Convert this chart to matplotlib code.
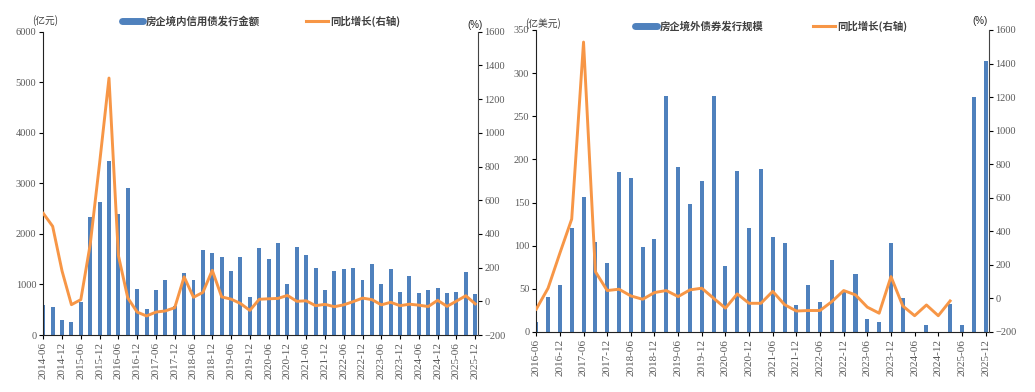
import matplotlib
matplotlib.use('Agg')
import matplotlib.pyplot as plt
import numpy as np
from matplotlib.lines import Line2D

plt.rcParams['font.family'] = ['Liberation Serif', 'Noto Sans CJK SC']

# ---------------- data ----------------
dom_quarters = ['2014-06', '2014-09', '2014-12', '2015-03', '2015-06', '2015-09', '2015-12',
                '2016-03', '2016-06', '2016-09', '2016-12', '2017-03', '2017-06', '2017-09',
                '2017-12', '2018-03', '2018-06', '2018-09', '2018-12', '2019-03', '2019-06',
                '2019-09', '2019-12', '2020-03', '2020-06', '2020-09', '2020-12', '2021-03',
                '2021-06', '2021-09', '2021-12', '2022-03', '2022-06', '2022-09', '2022-12',
                '2023-03', '2023-06', '2023-09', '2023-12', '2024-03', '2024-06', '2024-09',
                '2024-12', '2025-03', '2025-06', '2025-09', '2025-12']
dom_amount = [590, 545, 295, 265, 645, 2340, 2635, 3435, 2395, 2915, 915, 505, 885, 1090,
              575, 1230, 1080, 1685, 1615, 1545, 1265, 1545, 760, 1715, 1505, 1815, 1015,
              1735, 1575, 1330, 900, 1270, 1300, 1335, 1095, 1405, 1015, 1300, 850, 1175,
              830, 895, 920, 830, 850, 1250, 805]
dom_yoy = [522, 445, 180, -20, 10, 338, 820, 1325, 272, 20, -64, -87, -64, -57, -38, 145,
           24, 53, 184, 26, 13, -13, -54, 12, 15, 17, 35, 0, 3, -26, -18, -32, -21, -2, 19,
           10, -21, -6, -26, -17, -23, -31, 6, -30, 1, 33, -15]
dom_ticklabels = ['2014-06', '2014-12', '2015-06', '2015-12', '2016-06', '2016-12', '2017-06',
                  '2017-12', '2018-06', '2018-12', '2019-06', '2019-12', '2020-06', '2020-12',
                  '2021-06', '2021-12', '2022-06', '2022-12', '2023-06', '2023-12', '2024-06',
                  '2024-12', '2025-06', '2025-12']

ovs_quarters = ['2016-06', '2016-09', '2016-12', '2017-03', '2017-06', '2017-09', '2017-12',
                '2018-03', '2018-06', '2018-09', '2018-12', '2019-03', '2019-06', '2019-09',
                '2019-12', '2020-03', '2020-06', '2020-09', '2020-12', '2021-03', '2021-06',
                '2021-09', '2021-12', '2022-03', '2022-06', '2022-09', '2022-12', '2023-03',
                '2023-06', '2023-09', '2023-12', '2024-03', '2024-06', '2024-09', '2024-12',
                '2025-03', '2025-06', '2025-09', '2025-12']
ovs_amount = [11, 40, 55, 120, 156, 104, 80, 185, 178, 99, 108, 274, 191, 148, 175, 273, 77,
              186, 121, 189, 110, 103, 31, 55, 35, 83, 47, 67, 15, 12, 103, 39, 0, 8, 0, 33,
              8, 272, 314]
ovs_yoy = [-64, 61, 270, 473, 1528, 160, 47, 55, 15, -5, 35, 47, 11, 51, 61, 1, -58, 27, -29,
           -29, 42, -37, -75, -72, -72, -19, 47, 21, -52, -88, 130, -45, -103, -39, -103, -15,
           np.nan, np.nan, np.nan]
ovs_ticklabels = ['2016-06', '2016-12', '2017-06', '2017-12', '2018-06', '2018-12', '2019-06',
                  '2019-12', '2020-06', '2020-12', '2021-06', '2021-12', '2022-06', '2022-12',
                  '2023-06', '2023-12', '2024-06', '2024-12', '2025-06', '2025-12']

dom_bar_label = '房企境内信用债发行金额'
ovs_bar_label = '房企境外债券发行规模'
line_label = '同比增长(右轴)'

# ---------------- style ----------------
BLUE = '#4F81BD'
ORANGE = '#F79646'
TICKC = '#595959'
CJK = ['Noto Sans CJK SC', 'DejaVu Sans']

fig = plt.figure(figsize=(10.35, 3.92), dpi=100)


def make_panel(rect, quarters, amounts, yoy, ticklabels, ylim, yticks, bar_w,
               unit, unit_xy, pct_xy, legend_x, bar_label, colspace):
    ax = fig.add_axes(rect)
    x = np.arange(len(quarters))
    ax.bar(x, amounts, width=bar_w, color=BLUE, zorder=2)
    ax.set_xlim(0, len(quarters) - 1 + 0.25)
    ax.set_ylim(*ylim)
    ax.set_yticks(yticks)
    tick_pos = [quarters.index(t) for t in ticklabels]
    ax.set_xticks(tick_pos)
    ax.set_xticklabels(ticklabels, rotation=90, fontsize=8, color=TICKC)
    ax.tick_params(axis='y', labelsize=7.5, labelcolor=TICKC, length=3, direction='out',
                   width=0.8, pad=2)
    ax.tick_params(axis='x', length=3, direction='out', width=0.8, pad=2)
    for s in ['top', 'right']:
        ax.spines[s].set_visible(False)
    ax.spines['left'].set_color('#222222')
    ax.spines['bottom'].set_color('#222222')

    ax2 = ax.twinx()
    ax2.plot(x, yoy, color=ORANGE, lw=2.1, zorder=3)
    ax2.set_ylim(-200, 1600)
    ax2.set_yticks(np.arange(-200, 1601, 200))
    ax2.tick_params(axis='y', labelsize=7.5, labelcolor=TICKC, length=3, direction='out',
                    width=0.8, pad=2)
    for s in ['top', 'left', 'bottom']:
        ax2.spines[s].set_visible(False)
    ax2.spines['right'].set_color('#444444')
    ax2.set_xlim(ax.get_xlim())

    ax.text(unit_xy[0], unit_xy[1], unit, transform=ax.transAxes, ha='left', va='center',
            fontsize=7, color='#404040', family=CJK)
    ax2.text(pct_xy[0], pct_xy[1], '(%)', transform=ax2.transAxes, ha='center', va='center',
             fontsize=7, color='#222222', family=['Liberation Sans'])

    handles = [Line2D([], [], color=BLUE, lw=5, solid_capstyle='round'),
               Line2D([], [], color=ORANGE, lw=2.2)]
    leg = fig.legend(handles, [bar_label, line_label], loc='center left',
                     bbox_to_anchor=legend_x, ncol=2, frameon=False,
                     prop={'family': CJK, 'size': 7.5, 'weight': 'bold'},
                     handlelength=2.1, handletextpad=0.25, columnspacing=colspace,
                     borderpad=0, borderaxespad=0)
    for t in leg.get_texts():
        t.set_color('#404040')
    return ax, ax2


make_panel([0.0418, 0.1454, 0.4196, 0.7737], dom_quarters, dom_amount, dom_yoy,
           dom_ticklabels, (0, 6000), np.arange(0, 6001, 1000), 0.42, '(亿元)',
           (-0.026, 1.036), (0.995, 1.022), (0.1175, 0.945), dom_bar_label, 4.4)
make_panel([0.5181, 0.1531, 0.4370, 0.7704], ovs_quarters, ovs_amount, ovs_yoy,
           ovs_ticklabels, (0, 350), np.arange(0, 351, 50), 0.34, '(亿美元)',
           (-0.025, 1.02), (0.982, 1.03), (0.6135, 0.934), ovs_bar_label, 4.8)

fig.savefig('out.png', dpi=100)
